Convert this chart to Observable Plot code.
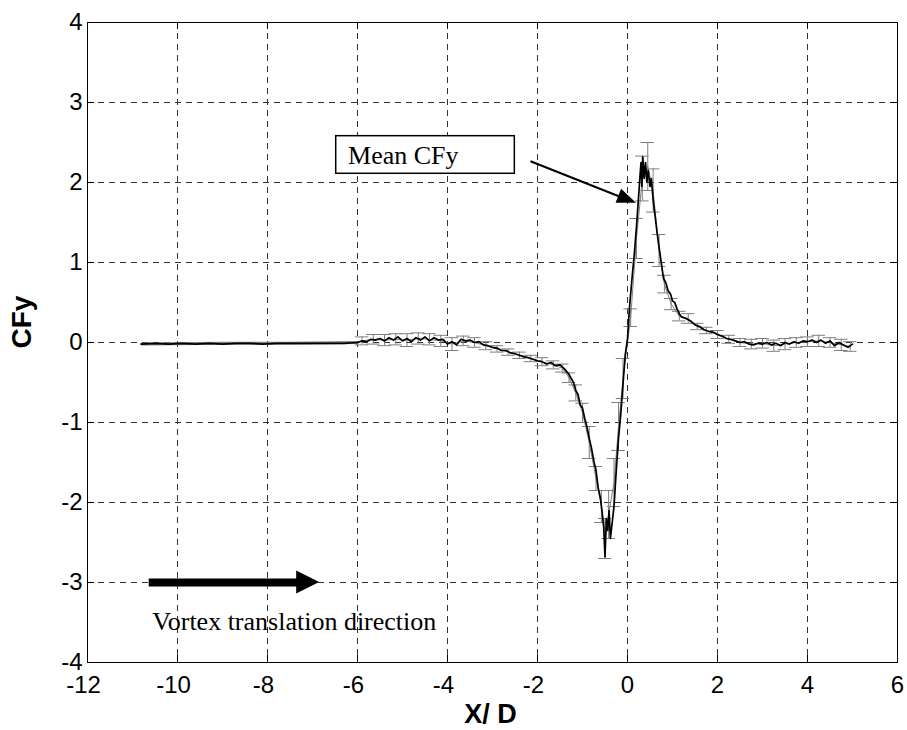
<!DOCTYPE html>
<html><head><meta charset="utf-8">
<script src="https://cdn.jsdelivr.net/npm/d3@7"></script>
<script src="https://cdn.jsdelivr.net/npm/@observablehq/plot@0.6"></script>
<style>body{margin:0;background:#fff}</style>
</head><body><div id="chart"></div>
<script>
// ---- tick values ----
const xTicks = [-12, -10, -8, -6, -4, -2, 0, 2, 4, 6];
const yTicks = [-4, -3, -2, -1, 0, 1, 2, 3, 4];

// ---- black (instantaneous) CFy curve ----
const lineX = [-10.8,-10.5,-10.2,-9.9,-9.6,-9.3,-9.0,-8.7,-8.4,-8.1,-7.8,-7.5,-7.2,-6.9,-6.6,-6.3,-6.0,
  -5.9,-5.8,-5.7,-5.6,-5.5,-5.4,-5.3,-5.2,-5.1,-5.0,-4.9,-4.8,-4.7,-4.6,-4.5,-4.4,-4.3,-4.2,-4.1,-4.0,
  -3.9,-3.8,-3.7,-3.6,-3.5,-3.4,-3.3,-3.2,-3.1,-3.0,-2.9,-2.8,-2.7,-2.6,-2.5,-2.4,-2.3,-2.2,-2.1,-2.0,
  -1.9,-1.8,-1.7,-1.6,-1.5,-1.4,-1.3,-1.2,-1.15,-1.1,-1.05,-1.0,-0.95,-0.9,-0.85,-0.8,-0.75,-0.7,-0.65,-0.6,
  -0.56,-0.53,-0.5,-0.47,-0.44,-0.41,-0.38,-0.35,-0.3,-0.25,-0.2,-0.15,-0.1,-0.05,0.0,0.05,0.1,0.15,0.2,0.25,
  0.28,0.3,0.32,0.34,0.37,0.4,0.43,0.46,0.5,0.53,0.57,0.62,0.66,0.7,0.75,0.8,0.85,0.9,0.96,1.0,1.05,1.1,1.15,1.2,
  1.3,1.4,1.5,1.6,1.7,1.8,1.9,2.0,2.1,2.2,2.3,2.4,2.5,2.6,2.7,2.8,2.9,3.0,3.1,3.2,3.3,3.4,3.5,3.6,3.7,3.8,3.9,
  4.0,4.1,4.2,4.3,4.4,4.5,4.6,4.7,4.8,4.9,5.0];
const lineY = [-0.02,-0.01,-0.02,-0.01,-0.02,-0.01,-0.02,-0.01,-0.01,-0.02,-0.01,-0.01,-0.01,-0.01,-0.01,-0.01,0.0,
  0.02,0.01,0.04,0.03,0.05,0.02,0.06,0.03,0.07,0.02,0.05,0.01,0.06,0.03,0.07,0.02,0.06,0.03,0.04,-0.02,
  0.01,-0.03,0.04,0.02,0.03,0.0,0.01,-0.03,-0.04,-0.06,-0.07,-0.1,-0.1,-0.13,-0.14,-0.16,-0.18,-0.19,-0.21,-0.23,
  -0.24,-0.27,-0.25,-0.29,-0.28,-0.33,-0.4,-0.5,-0.6,-0.65,-0.78,-0.82,-0.95,-1.06,-1.2,-1.32,-1.48,-1.6,-1.82,-1.95,
  -2.14,-2.3,-2.68,-2.2,-2.35,-2.1,-2.45,-2.3,-2.05,-1.6,-1.2,-0.9,-0.52,-0.15,0.05,0.48,0.8,1.1,1.45,1.85,
  2.1,2.25,1.95,2.32,2.05,2.25,2.0,2.15,1.95,2.05,1.78,1.55,1.36,1.2,1.0,0.8,0.75,0.65,0.6,0.52,0.5,0.42,0.36,0.32,
  0.3,0.27,0.22,0.2,0.16,0.14,0.13,0.1,0.08,0.05,0.04,0.02,0.0,0.01,-0.02,-0.03,-0.01,-0.02,0.0,-0.03,-0.01,-0.04,0.0,-0.02,0.01,-0.01,0.02,
  0.01,0.03,0.0,0.03,-0.01,0.02,-0.04,0.0,-0.03,-0.06,-0.02];

// ---- grey mean curve with error bars (mean ± std) ----
const errX = [-5.9,-5.65,-5.4,-5.15,-4.9,-4.65,-4.4,-4.15,-3.9,-3.65,-3.4,-3.15,-2.9,-2.65,-2.4,-2.15,-1.9,-1.65,
  -1.45,-1.3,-1.15,-1.0,-0.85,-0.7,-0.58,-0.5,-0.42,-0.3,-0.2,-0.1,0.07,0.2,0.33,0.45,0.57,0.7,0.82,0.97,1.15,1.35,
  1.55,1.75,2.0,2.25,2.5,2.75,3.0,3.25,3.5,3.75,4.0,4.25,4.5,4.75,4.95];
const errMean = [0.02,0.04,0.03,0.04,0.03,0.05,0.04,0.02,-0.02,0.02,0.0,-0.04,-0.08,-0.12,-0.16,-0.2,-0.24,-0.28,
  -0.32,-0.44,-0.63,-0.88,-1.25,-1.7,-2.05,-2.45,-2.15,-1.75,-1.05,-0.45,0.31,1.3,2.05,2.2,1.9,1.15,0.73,0.48,0.33,0.3,
  0.2,0.15,0.1,0.04,0.0,-0.02,-0.01,-0.04,-0.02,0.0,0.01,0.02,0.0,-0.03,-0.05];
const errStd = [0.05,0.06,0.07,0.07,0.08,0.07,0.07,0.07,0.08,0.06,0.06,0.05,0.04,0.04,0.04,0.04,0.05,0.05,
  0.05,0.06,0.1,0.12,0.2,0.15,0.2,0.25,0.3,0.3,0.3,0.25,0.11,0.25,0.28,0.3,0.27,0.2,0.11,0.07,0.06,0.06,
  0.04,0.04,0.05,0.05,0.05,0.06,0.06,0.07,0.07,0.06,0.06,0.07,0.06,0.07,0.06];
// grey band before the cylinder region
const flatGreyX = [-10.8, -9.0, -7.5, -6.0];
const flatGreyY = [-0.02, -0.01, -0.01, 0.0];

// ---- annotations ----
const annotTexts = ["Mean CFy", "Vortex translation direction"];
const annotTextX = [-6.21, -10.56];
const annotTextY = [2.234, -3.594];
const boxX1 = [-6.473], boxX2 = [-2.504], boxY1 = [2.109], boxY2 = [2.579];
const arrowX1 = [-10.64, -2.156], arrowY1 = [-3.0, 2.266];
const arrowX2 = [-6.84, 0.2],     arrowY2 = [-3.0, 1.741];

// ---- tables ----
const lineData = lineX.map((x, i) => ({x, y: lineY[i]}));
const errData = errX.map((x, i) => ({x, m: errMean[i], e: errStd[i]}));
const flatGrey = flatGreyX.map((x, i) => ({x, y: flatGreyY[i]}));
const textData = annotTexts.map((t, i) => ({t, x: annotTextX[i], y: annotTextY[i]}));
const boxData = boxX1.map((x1, i) => ({x1, x2: boxX2[i], y1: boxY1[i], y2: boxY2[i]}));
const arrows = arrowX1.map((x1, i) => ({x1, y1: arrowY1[i], x2: arrowX2[i], y2: arrowY2[i]}));

const capHalf = 0.15;
const grey = "#7f7f7f";
const gridStyle = {stroke: "#333", strokeOpacity: 1, strokeWidth: 1, strokeDasharray: "6,5"};
const fmt = d => String(d);

const chart = Plot.plot({
  width: 907, height: 730,
  marginLeft: 87, marginRight: 10, marginTop: 22, marginBottom: 68,
  x: {domain: [-12, 6], label: null},
  y: {domain: [-4, 4], label: null},
  style: {fontFamily: "Arial, 'Liberation Sans', Helvetica, sans-serif", background: "white", color: "black"},
  marks: [
    Plot.gridX(xTicks, gridStyle),
    Plot.gridY(yTicks, gridStyle),
    // grey mean + error bars
    Plot.line(flatGrey, {x: "x", y: "y", stroke: grey, strokeWidth: 3}),
    Plot.line(errData, {x: "x", y: "m", stroke: grey, strokeWidth: 1}),
    Plot.ruleX(errData, {x: "x", y1: d => d.m - d.e, y2: d => d.m + d.e, stroke: grey, strokeWidth: 1}),
    Plot.ruleY(errData, {y: d => d.m + d.e, x1: d => d.x - capHalf, x2: d => d.x + capHalf, stroke: grey, strokeWidth: 1}),
    Plot.ruleY(errData, {y: d => d.m - d.e, x1: d => d.x - capHalf, x2: d => d.x + capHalf, stroke: grey, strokeWidth: 1}),
    // black curve
    Plot.line(lineData, {x: "x", y: "y", stroke: "black", strokeWidth: 1.7}),
    // annotation box + text
    Plot.rect(boxData, {x1: "x1", x2: "x2", y1: "y1", y2: "y2", fill: "white", stroke: "black", strokeWidth: 1.5}),
    Plot.text(textData, {x: "x", y: "y", text: "t", textAnchor: "start", lineAnchor: "bottom",
      fontFamily: "'Times New Roman', 'Liberation Serif', serif", fontSize: 26, fill: "black"}),
    // arrow shafts (heads added below)
    Plot.arrow([arrows[0]], {x1: "x1", y1: "y1", x2: "x2", y2: "y2", stroke: "black", strokeWidth: 8, strokeLinecap: "butt", headLength: 0, insetEnd: 21}),
    Plot.arrow([arrows[1]], {x1: "x1", y1: "y1", x2: "x2", y2: "y2", stroke: "black", strokeWidth: 2, strokeLinecap: "butt", headLength: 0, insetEnd: 17}),
    // frame and inside ticks
    Plot.frame({stroke: "black", strokeWidth: 1}),
    Plot.tickX(xTicks, {x: d => d, insetTop: 633, stroke: "black"}),
    Plot.tickX(xTicks, {x: d => d, insetBottom: 633, stroke: "black"}),
    Plot.tickY(yTicks, {y: d => d, insetRight: 803, stroke: "black"}),
    Plot.tickY(yTicks, {y: d => d, insetLeft: 803, stroke: "black"}),
    // axes
    Plot.axisX(xTicks.filter(d => d < 0), {tickSize: 0, tickPadding: 13, dx: -4, tickFormat: fmt, fontSize: 24, label: null}),
    Plot.axisX(xTicks.filter(d => d >= 0), {tickSize: 0, tickPadding: 13, tickFormat: fmt, fontSize: 24, label: null}),
    Plot.axisY(yTicks, {tickSize: 0, tickPadding: 5, tickFormat: fmt, fontSize: 24, label: null}),
    Plot.text(["X/ D"], {text: d => d, frameAnchor: "bottom", dy: 60, dx: -2, lineAnchor: "bottom", fontSize: 27, fontWeight: "bold"}),
    Plot.text(["CFy"], {text: d => d, frameAnchor: "left", dx: -65, dy: 6, rotate: -90, fontSize: 28, fontWeight: "bold"})
  ]
});

// filled arrow heads, placed with the plot's own scales
const headSize = [{L: 23, W: 11.5}, {L: 19, W: 7.5}];
const sx = chart.scale("x"), sy = chart.scale("y");
const svg = d3.select(chart);
arrows.forEach((a, i) => {
  const x1 = sx.apply(a.x1), y1 = sy.apply(a.y1), x2 = sx.apply(a.x2), y2 = sy.apply(a.y2);
  const len = Math.hypot(x2 - x1, y2 - y1), ux = (x2 - x1) / len, uy = (y2 - y1) / len;
  const {L, W} = headSize[i];
  const bx = x2 - L * ux, by = y2 - L * uy;
  const pts = [[x2, y2], [bx - W * uy, by + W * ux], [bx + W * uy, by - W * ux]];
  svg.append("polygon").attr("points", pts.map(p => p.join(",")).join(" ")).attr("fill", "black");
});

document.getElementById("chart").appendChild(chart);
</script>
</body></html>
